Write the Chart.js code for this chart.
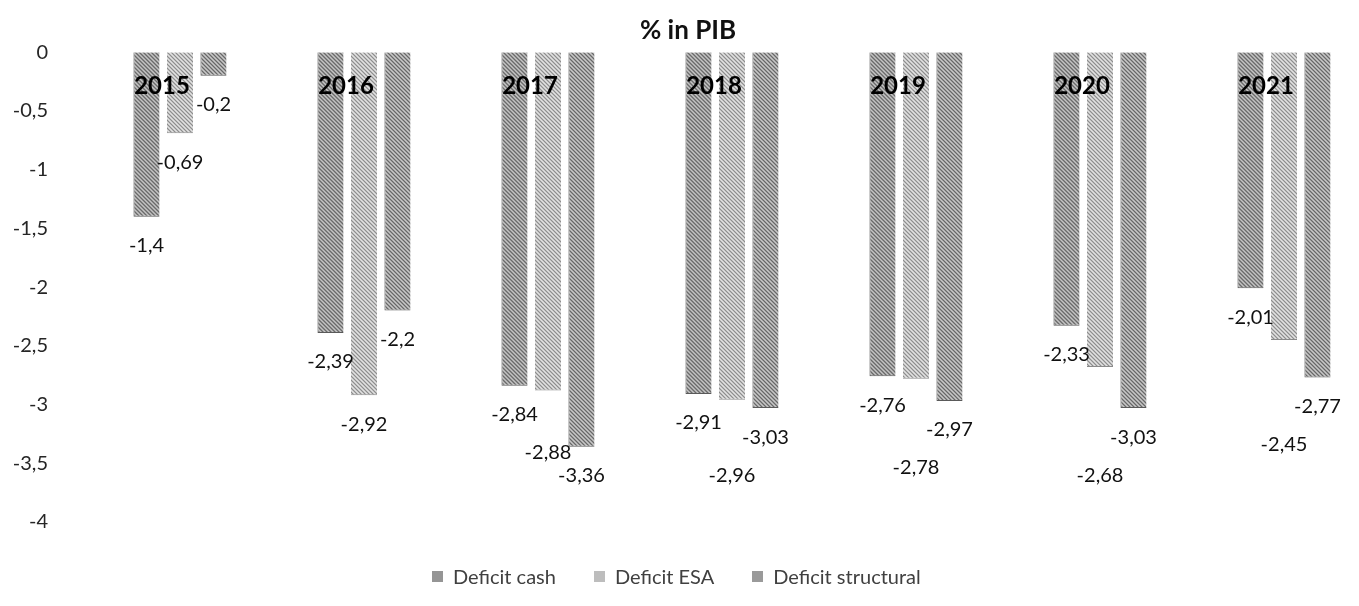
<!DOCTYPE html>
<html><head><meta charset="utf-8">
<script src="https://cdn.jsdelivr.net/npm/chart.js@4/dist/chart.umd.min.js"></script>
<style>
html,body{margin:0;padding:0;background:#fff;overflow:hidden;width:1359px;height:606px}
#wrap{position:relative;width:1376px;height:606px}
#c{display:block}
#legend{position:absolute;left:432px;top:564px;height:24px;line-height:24px;font-family:Lato,"DejaVu Sans",sans-serif;font-size:20px;color:#404040;display:flex;align-items:center;white-space:nowrap}
.item{display:flex;align-items:center;margin-right:38px}
.sw{width:11px;height:11px;margin-right:10px}
</style></head><body>
<div id="wrap"><canvas id="c" width="1376" height="606"></canvas><div id="legend"></div></div>
<script>
const categories = ['2015', '2016', '2017', '2018', '2019', '2020', '2021'];
const deficitCash = [-1.4, -2.39, -2.84, -2.91, -2.76, -2.33, -2.01];
const deficitESA = [-0.69, -2.92, -2.88, -2.96, -2.78, -2.68, -2.45];
const deficitStructural = [-0.2, -2.2, -3.36, -3.03, -2.97, -3.03, -2.77];
const seriesNames = ['Deficit cash', 'Deficit ESA', 'Deficit structural'];
const yTicks = [0, -0.5, -1, -1.5, -2, -2.5, -3, -3.5, -4];
const chartTitle = '% in PIB';

const FONT = 'Lato, "DejaVu Sans", sans-serif';
function fmt(v) { return String(v).replace('.', ','); }

function makePattern(base, dark, light) {
  const t = document.createElement('canvas');
  t.width = 4; t.height = 4;
  const g = t.getContext('2d');
  g.fillStyle = base; g.fillRect(0, 0, 4, 4);
  g.fillStyle = dark;
  for (let i = 0; i < 4; i++) g.fillRect(i, (i + 1) % 4, 1, 1);
  g.fillStyle = light;
  for (let i = 0; i < 4; i++) g.fillRect(i, (i + 3) % 4, 1, 1);
  return document.getElementById('c').getContext('2d').createPattern(t, 'repeat');
}
const fills = [
  makePattern('#9a9a9a', '#6a6a6a', '#c4c4c4'),
  makePattern('#c2c2c2', '#8e8e8e', '#e2e2e2'),
  makePattern('#a0a0a0', '#686868', '#c8c8c8')
];
const swatch = ['#959595', '#bdbdbd', '#9a9a9a'];

// Data labels: placed below each bar end; the middle series label is pushed
// below a neighbour label when they would crowd each other.
const labelPlugin = {
  id: 'barLabels',
  afterDatasetsDraw(chart) {
    const ctx = chart.ctx;
    ctx.save();
    ctx.font = '20px ' + FONT;
    ctx.fillStyle = '#111';
    ctx.textAlign = 'center';
    ctx.textBaseline = 'middle';
    categories.forEach((c, i) => {
      const items = [0, 1, 2].map(d => {
        const bar = chart.getDatasetMeta(d).data[i];
        const text = fmt(chart.data.datasets[d].data[i]);
        return { x: bar.x, y: bar.y + 29, w: ctx.measureText(text).width, text };
      });
      const mid = items[1];
      [items[2], items[0]].forEach(n => {
        const xOverlap = Math.abs(n.x - mid.x) < (n.w + mid.w) / 2;
        if (xOverlap && Math.abs(n.y - mid.y) < 45) mid.y = n.y + 38;
      });
      items.forEach(it => ctx.fillText(it.text, it.x, it.y));
    });
    ctx.restore();
  }
};

new Chart(document.getElementById('c'), {
  type: 'bar',
  data: {
    labels: categories,
    datasets: [
      { label: seriesNames[0], data: deficitCash, backgroundColor: fills[0], borderColor: '#5a5a5a', borderWidth: { left: 1, right: 0, top: 0, bottom: 1 } },
      { label: seriesNames[1], data: deficitESA, backgroundColor: fills[1], borderColor: '#8a8a8a', borderWidth: { left: 0, right: 0, top: 0, bottom: 1 } },
      { label: seriesNames[2], data: deficitStructural, backgroundColor: fills[2], borderColor: '#5a5a5a', borderWidth: { left: 1, right: 0, top: 0, bottom: 1 } }
    ]
  },
  options: {
    responsive: false,
    animation: false,
    categoryPercentage: 0.546,
    barPercentage: 0.78,
    layout: { padding: { left: 0, right: 0, top: 0, bottom: 84 } },
    plugins: {
      legend: { display: false },
      tooltip: { enabled: false },
      title: {
        display: true, text: chartTitle, color: '#111',
        font: { family: FONT, size: 26, weight: 'bold' },
        padding: { top: 15, bottom: 6 }
      }
    },
    scales: {
      x: {
        position: { y: 0 },
        grid: { display: false, drawTicks: false },
        border: { display: false },
        ticks: {
          z: 1,
          color: '#000', padding: 20, labelOffset: -18, maxRotation: 0,
          font: { family: FONT, size: 24, weight: 'bold' }
        }
      },
      y: {
        min: -4, max: 0,
        grid: { display: false, drawTicks: false },
        border: { display: false },
        afterBuildTicks(scale) { scale.ticks = yTicks.map(v => ({ value: v })); },
        afterFit(scale) { scale.width = 88; },
        ticks: {
          color: '#262626', padding: 40,
          font: { family: FONT, size: 20 },
          callback: v => fmt(v)
        }
      }
    }
  },
  plugins: [labelPlugin]
});

const lg = document.getElementById('legend');
seriesNames.forEach((n, i) => {
  const it = document.createElement('div'); it.className = 'item';
  const sw = document.createElement('div'); sw.className = 'sw'; sw.style.background = swatch[i];
  const tx = document.createElement('span'); tx.textContent = n;
  it.appendChild(sw); it.appendChild(tx); lg.appendChild(it);
});
</script>
</body></html>
